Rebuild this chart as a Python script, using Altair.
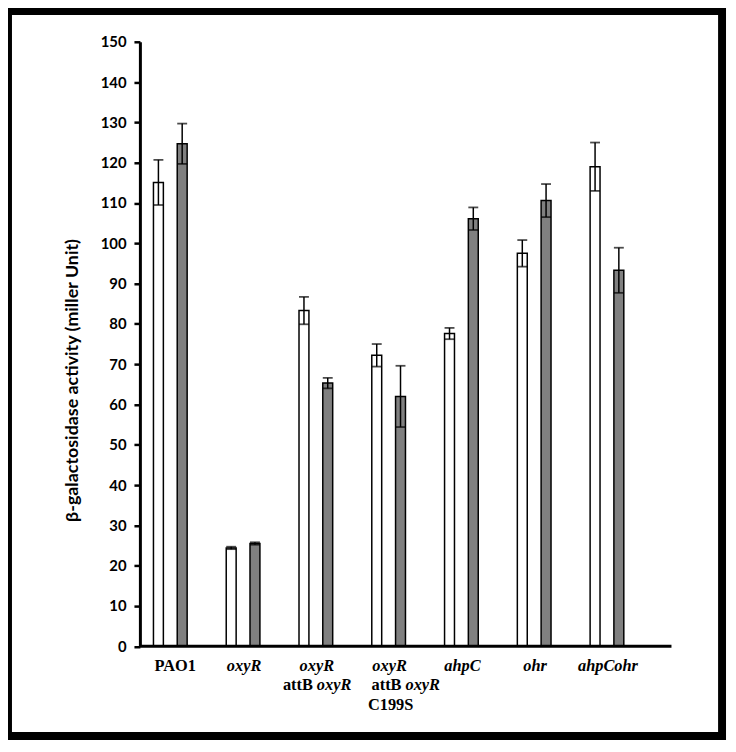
import altair as alt
import pandas as pd

# ---- data ----
groups = ["PAO1", "oxyR", "oxyR attB oxyR", "oxyR attB oxyR C199S", "ahpC", "ohr", "ahpCohr"]
series = ["white", "grey"]
white_values = [115.1, 24.4, 83.3, 72.2, 77.6, 97.5, 119.0]
white_errors = [5.6, 0.3, 3.4, 2.8, 1.4, 3.3, 6.0]
grey_values = [124.7, 25.5, 65.3, 62.0, 106.1, 110.6, 93.3]
grey_errors = [5.0, 0.3, 1.3, 7.6, 2.8, 4.1, 5.6]

# x tick labels (line 1 / line 2 pieces / line 3)
label_line1 = ["PAO1", "oxyR", "oxyR", "oxyR", "ahpC", "ohr", "ahpCohr"]
label_line1_italic = [False, True, True, True, True, True, True]
label_line2_plain = ["", "", "attB", "attB", "", "", ""]
label_line2_italic = ["", "", "oxyR", "oxyR", "", "", ""]
label_line3 = ["", "", "", "C199S", "", "", ""]

y_ticks = list(range(0, 151, 10))
y_title = "β-galactosidase activity (miller Unit)"

# ---- tables ----
half_gap = 12.25 / 75.0  # half distance between the two bars of a group, in group units
rows = []
for i, g in enumerate(groups):
    rows.append(dict(group=g, idx=i, series="white", pos=i - half_gap,
                     value=white_values[i], lo=white_values[i] - white_errors[i],
                     hi=white_values[i] + white_errors[i]))
    rows.append(dict(group=g, idx=i, series="grey", pos=i + half_gap,
                     value=grey_values[i], lo=grey_values[i] - grey_errors[i],
                     hi=grey_values[i] + grey_errors[i]))
df = pd.DataFrame(rows)

lab_rows = []
for i in range(len(groups)):
    lab_rows.append(dict(idx=i, row=1, text=label_line1[i],
                         kind="italic" if label_line1_italic[i] else "plain"))
    if label_line2_plain[i]:
        lab_rows.append(dict(idx=i, row=2, text=label_line2_plain[i], kind="plain2"))
    if label_line2_italic[i]:
        lab_rows.append(dict(idx=i, row=2, text=label_line2_italic[i], kind="italic2"))
    if label_line3[i]:
        lab_rows.append(dict(idx=i, row=3, text=label_line3[i], kind="plain"))
labs = pd.DataFrame(lab_rows)

# ---- scales / axis ----
xscale = alt.Scale(domain=[0, 6], range=[158.65, 608.95], zero=False, nice=False)
yscale = alt.Scale(domain=[0, 150], range=[640.5, 31], nice=False, zero=True)
yaxis = alt.Axis(values=y_ticks, offset=-133, title=y_title,
                 domainColor="black", domainWidth=3,
                 tickColor="black", tickWidth=2.5, tickSize=6,
                 labelFont="Lato", labelFontWeight="bold", labelFontSize=15,
                 labelColor="black", labelPadding=8, grid=False,
                 titleFont="Lato", titleFontWeight="bold", titleFontSize=18,
                 titleColor="black", titleX=-68, titleY=372,
                 titleAngle=-90, titleAlign="center", titleBaseline="middle")

base = alt.Chart(df)

bars = base.mark_bar(width=10, stroke="black", strokeWidth=1.5).encode(
    x=alt.X("pos:Q", scale=xscale, axis=None),
    y=alt.Y("value:Q", scale=yscale, axis=yaxis, title=y_title),
    fill=alt.Fill("series:N", scale=alt.Scale(domain=series, range=["#ffffff", "#808080"]),
                  legend=None),
)

err = base.mark_rule(color="black", strokeWidth=1.5).encode(
    x=alt.X("pos:Q", scale=xscale, axis=None),
    y=alt.Y("lo:Q", scale=yscale, axis=yaxis, title=y_title),
    y2="hi:Q",
)
cap_hi = base.mark_tick(color="black", orient="horizontal", size=10, thickness=1.8).encode(
    x=alt.X("pos:Q", scale=xscale, axis=None),
    y=alt.Y("hi:Q", scale=yscale, axis=yaxis, title=y_title),
)
cap_lo = base.mark_tick(color="black", orient="horizontal", size=10, thickness=1.8).encode(
    x=alt.X("pos:Q", scale=xscale, axis=None),
    y=alt.Y("lo:Q", scale=yscale, axis=yaxis, title=y_title),
)

xaxis_line = alt.Chart(pd.DataFrame({"a": [0]})).mark_rule(color="black", strokeWidth=3).encode(
    x=alt.value(133), x2=alt.value(669), y=alt.value(640.5)
)

row_y = {1: 660, 2: 680, 3: 700}

def label_layer(kind, row, italic, align, dx, only=None, skip=None):
    d = labs[(labs["kind"] == kind) & (labs["row"] == row)]
    if only is not None:
        d = d[d["idx"] == only]
    if skip is not None:
        d = d[d["idx"] != skip]
    return alt.Chart(d).mark_text(
        font="Liberation Serif", fontWeight="bold",
        fontStyle="italic" if italic else "normal",
        fontSize=16.5, color="black", align=align, baseline="middle", dx=dx,
    ).encode(
        x=alt.X("idx:Q", scale=xscale, axis=None),
        y=alt.value(row_y[row]),
        text="text:N",
    )

labels = [
    label_layer("plain", 1, False, "center", 5),
    label_layer("italic", 1, True, "center", 1),
    label_layer("plain2", 2, False, "right", -3, skip=3),
    label_layer("italic2", 2, True, "left", 1, skip=3),
    label_layer("plain2", 2, False, "right", 13, only=3),
    label_layer("italic2", 2, True, "left", 17, only=3),
    label_layer("plain", 3, False, "center", 2),
]

chart = alt.layer(bars, err, cap_hi, cap_lo, xaxis_line, *labels).properties(
    width=720, height=731,
    autosize=alt.AutoSizeParams(type="none"),
    padding={"left": 0, "top": 0, "right": 6, "bottom": 8},
).configure(background="white").configure_view(stroke="black", strokeWidth=8)

chart.save("out.html", embed_options={"renderer": "svg", "actions": False})
